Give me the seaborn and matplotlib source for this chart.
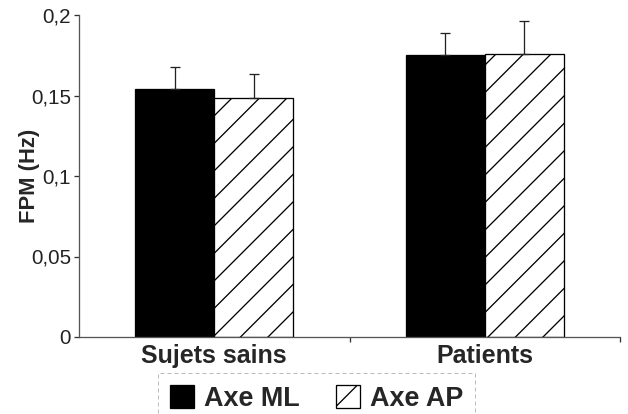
import numpy as np
import pandas as pd
import seaborn as sns
import matplotlib.pyplot as plt
from matplotlib.ticker import FixedLocator

# Données
groupes = ["Sujets sains", "Patients"]
axes_mesure = ["Axe ML", "Axe AP"]
fpm_ml = [0.154, 0.175]
fpm_ap = [0.1485, 0.176]
err_ml = [0.014, 0.014]
err_ap = [0.015, 0.020]
yticks = [0, 0.05, 0.1, 0.15, 0.2]
yticklabels = ["0", "0,05", "0,1", "0,15", "0,2"]

DPI = 165
PX = 72 / DPI  # un pixel en points

sns.set_style("white")
plt.rcParams["font.family"] = ["Liberation Sans", "DejaVu Sans"]
plt.rcParams["hatch.linewidth"] = 1.3 * PX

df = pd.DataFrame({
    "groupe": groupes * 2,
    "axe": [axes_mesure[0]] * 2 + [axes_mesure[1]] * 2,
    "fpm": fpm_ml + fpm_ap,
})
erreurs = [err_ml, err_ap]

fig = plt.figure(figsize=(628 / DPI, 414 / DPI), dpi=DPI)
ax = fig.add_axes([79 / 628, (414 - 337) / 414, (620 - 79) / 628, (337 - 15) / 414])

sns.barplot(data=df, x="groupe", y="fpm", hue="axe", order=groupes,
            hue_order=axes_mesure, palette=["black", "white"],
            edgecolor="black", linewidth=1.3 * PX, width=0.584,
            errorbar=None, ax=ax)

# hachures pour l'axe AP
for bar in ax.containers[1]:
    bar.set_hatch("//")

# barres d'erreur (vers le haut seulement)
for cont, errs in zip(ax.containers, erreurs):
    for bar, e in zip(cont, errs):
        ax.errorbar(bar.get_x() + bar.get_width() / 2, bar.get_height(),
                    yerr=[[0], [e]], fmt="none", ecolor="#222222",
                    elinewidth=1.3 * PX, capsize=5 * PX, capthick=1.3 * PX)

ax.set_xlim(-0.5, 1.5)
ax.set_ylim(0, 0.2)
ax.set_yticks(yticks)
ax.set_yticklabels(yticklabels)
ax.xaxis.set_minor_locator(FixedLocator([0.5, 1.5]))
ax.tick_params(axis="x", which="major", length=0, pad=7 * PX,
               labelsize=25 * PX)
ax.tick_params(axis="x", which="minor", length=5 * PX, width=1.3 * PX,
               color="#333333", direction="out", bottom=True)
ax.tick_params(axis="y", length=5 * PX, width=1.3 * PX, color="#333333",
               direction="out", left=True, labelsize=20.5 * PX,
               pad=3 * PX, labelcolor="#222222")
for lab in ax.get_xticklabels():
    lab.set_fontweight("bold")

sns.despine(ax=ax)
for s in ["left", "bottom"]:
    ax.spines[s].set_color("#555555")
    ax.spines[s].set_linewidth(1.3 * PX)

ax.set_xlabel("")
ax.set_ylabel("FPM (Hz)", fontsize=22 * PX, fontweight="bold")
ax.yaxis.set_label_coords((40 - 79) / 541, 0.5)

ax.get_legend().remove()
leg = fig.legend(handles=[ax.containers[0][0], ax.containers[1][0]],
                 labels=axes_mesure, loc="upper center",
                 bbox_to_anchor=(316.5 / 628, (414 - 373) / 414), ncol=2,
                 prop={"size": 27 * PX, "weight": "bold"},
                 handlelength=0.9, handleheight=0.9, handletextpad=0.35,
                 columnspacing=1.35, borderpad=0.45, borderaxespad=0,
                 fancybox=False, frameon=True)
frame = leg.get_frame()
frame.set_linestyle((0, (4, 3)))
frame.set_edgecolor("#aaaaaa")
frame.set_linewidth(1.0 * PX)

fig.savefig("out.png", dpi=DPI)
